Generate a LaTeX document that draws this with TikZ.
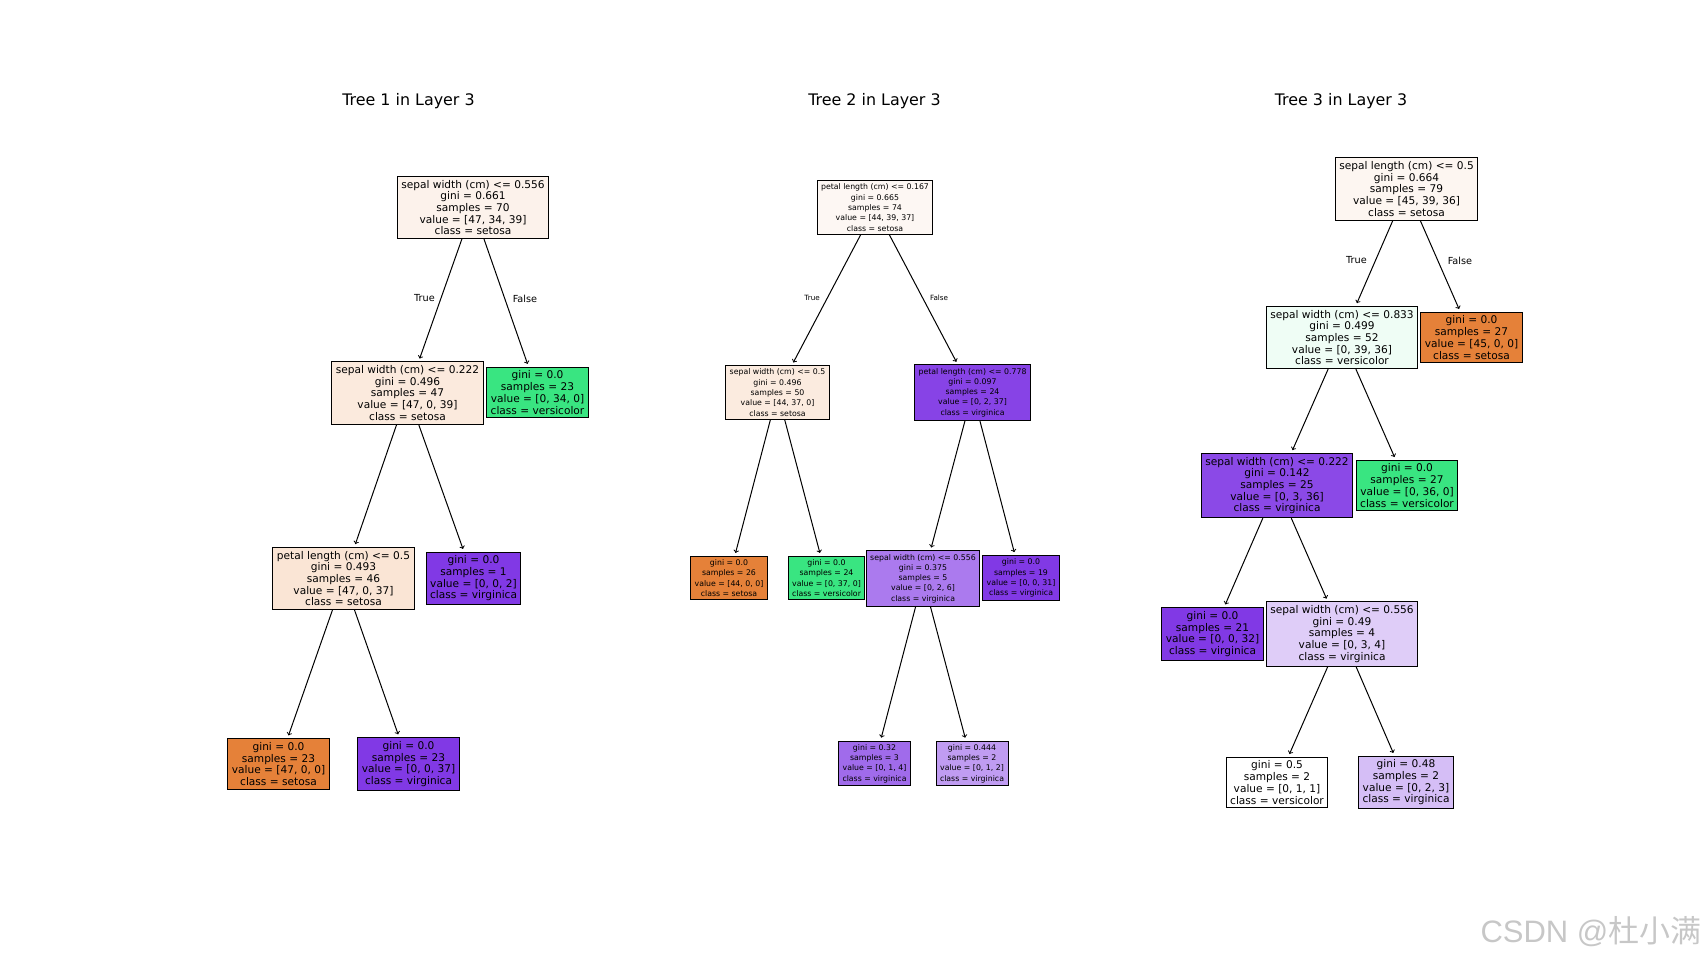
\documentclass[tikz,border=0pt]{standalone}
\usepackage{fontspec}
\setmainfont{DejaVu Sans}
\newfontfamily\wmfont{Liberation Sans}
\newfontfamily\cjk{Noto Sans CJK SC}
\definecolor{setosa}{HTML}{E58139}
\definecolor{versicolor}{HTML}{39E581}
\definecolor{virginica}{HTML}{8139E5}
\tikzstyle{tnode}=[draw, line width=1pt, inner xsep=4pt, inner ysep=3.6pt, align=center, font=\fontsize{10.6}{11.7}\selectfont]
\tikzstyle{snode}=[tnode, inner ysep=3.2pt, font=\fontsize{7.8}{10.3}\selectfont]
\tikzstyle{edge}=[->, line width=1pt, shorten >=3pt]
\tikzstyle{tlab}=[inner sep=0pt, font=\fontsize{9.7}{11}\selectfont]
\tikzstyle{slab}=[inner sep=0pt, font=\fontsize{7.2}{8}\selectfont]
\tikzstyle{treetitle}=[font=\fontsize{15.9}{18}\selectfont]

\begin{document}
\begin{tikzpicture}[x=1pt, y=-1pt]
        \useasboundingbox (0, 0) rectangle (1706, 962);
        % tree 1
        \node[treetitle]                  (T1) at (408.5, 101) {Tree 1 in Layer 3};
        \node[tnode, fill=setosa!10]      (A0) at (473, 207.5) {sepal width (cm) <= 0.556\\gini = 0.661\\samples = 70\\value = [47, 34, 39]\\class = setosa};
        \node[tnode, fill=setosa!17]      (A1) at (407.5, 393) {sepal width (cm) <= 0.222\\gini = 0.496\\samples = 47\\value = [47, 0, 39]\\class = setosa};
        \node[tnode, fill=versicolor]     (A2) at (537.5, 392.5) {gini = 0.0\\samples = 23\\value = [0, 34, 0]\\class = versicolor};
        \node[tnode, fill=setosa!21]      (A3) at (343.5, 578.5) {petal length (cm) <= 0.5\\gini = 0.493\\samples = 46\\value = [47, 0, 37]\\class = setosa};
        \node[tnode, fill=virginica]      (A4) at (473.5, 578.5) {gini = 0.0\\samples = 1\\value = [0, 0, 2]\\class = virginica};
        \node[tnode, fill=setosa]         (A5) at (278.5, 764) {gini = 0.0\\samples = 23\\value = [47, 0, 0]\\class = setosa};
        \node[tnode, fill=virginica]      (A6) at (408.5, 764) {gini = 0.0\\samples = 23\\value = [0, 0, 37]\\class = virginica};
        \draw[edge] (A0) -- node[tlab, anchor=east, xshift=-5pt, yshift=2pt] (A0true) {True} (A1);
        \draw[edge] (A0) -- node[tlab, anchor=west, xshift=6pt, yshift=4pt] (A0false) {False} (A2);
        \draw[edge] (A1) -- (A3);
        \draw[edge] (A1) -- (A4);
        \draw[edge] (A3) -- (A5);
        \draw[edge] (A3) -- (A6);
        % tree 2
        \node[treetitle]                  (T2) at (874.5, 101) {Tree 2 in Layer 3};
        \node[snode, fill=setosa!6]       (B0) at (875, 207.5) {petal length (cm) <= 0.167\\gini = 0.665\\samples = 74\\value = [44, 39, 37]\\class = setosa};
        \node[snode, fill=setosa!16]      (B1) at (777.5, 392.5) {sepal width (cm) <= 0.5\\gini = 0.496\\samples = 50\\value = [44, 37, 0]\\class = setosa};
        \node[snode, fill=virginica!95]   (B2) at (972.5, 392.5) {petal length (cm) <= 0.778\\gini = 0.097\\samples = 24\\value = [0, 2, 37]\\class = virginica};
        \node[snode, fill=setosa]         (B3) at (729, 578) {gini = 0.0\\samples = 26\\value = [44, 0, 0]\\class = setosa};
        \node[snode, fill=versicolor]     (B4) at (826.5, 578) {gini = 0.0\\samples = 24\\value = [0, 37, 0]\\class = versicolor};
        \node[snode, fill=virginica!67]   (B5) at (923, 578.5) {sepal width (cm) <= 0.556\\gini = 0.375\\samples = 5\\value = [0, 2, 6]\\class = virginica};
        \node[snode, fill=virginica]      (B6) at (1021, 578) {gini = 0.0\\samples = 19\\value = [0, 0, 31]\\class = virginica};
        \node[snode, fill=virginica!75]   (B7) at (874.5, 763.5) {gini = 0.32\\samples = 3\\value = [0, 1, 4]\\class = virginica};
        \node[snode, fill=virginica!50]   (B8) at (972, 763.5) {gini = 0.444\\samples = 2\\value = [0, 1, 2]\\class = virginica};
        \draw[edge] (B0) -- node[slab, anchor=east, xshift=-6pt, yshift=2pt] (B0true) {True} (B1);
        \draw[edge] (B0) -- node[slab, anchor=west, xshift=6pt, yshift=2pt] (B0false) {False} (B2);
        \draw[edge] (B1) -- (B3);
        \draw[edge] (B1) -- (B4);
        \draw[edge] (B2) -- (B5);
        \draw[edge] (B2) -- (B6);
        \draw[edge] (B5) -- (B7);
        \draw[edge] (B5) -- (B8);
        % tree 3
        \node[treetitle]                  (T3) at (1341, 101) {Tree 3 in Layer 3};
        \node[tnode, fill=setosa!7]       (C0) at (1406.5, 189) {sepal length (cm) <= 0.5\\gini = 0.664\\samples = 79\\value = [45, 39, 36]\\class = setosa};
        \node[tnode, fill=versicolor!8]   (C1) at (1342, 337.5) {sepal width (cm) <= 0.833\\gini = 0.499\\samples = 52\\value = [0, 39, 36]\\class = versicolor};
        \node[tnode, fill=setosa]         (C2) at (1471.5, 337.5) {gini = 0.0\\samples = 27\\value = [45, 0, 0]\\class = setosa};
        \node[tnode, fill=virginica!92]   (C3) at (1277, 485.5) {sepal width (cm) <= 0.222\\gini = 0.142\\samples = 25\\value = [0, 3, 36]\\class = virginica};
        \node[tnode, fill=versicolor]     (C4) at (1407, 485.5) {gini = 0.0\\samples = 27\\value = [0, 36, 0]\\class = versicolor};
        \node[tnode, fill=virginica]      (C5) at (1212.5, 634) {gini = 0.0\\samples = 21\\value = [0, 0, 32]\\class = virginica};
        \node[tnode, fill=virginica!25]   (C6) at (1342, 634) {sepal width (cm) <= 0.556\\gini = 0.49\\samples = 4\\value = [0, 3, 4]\\class = virginica};
        \node[tnode, fill=white]          (C7) at (1277, 782.5) {gini = 0.5\\samples = 2\\value = [0, 1, 1]\\class = versicolor};
        \node[tnode, fill=virginica!33]   (C8) at (1406, 782.5) {gini = 0.48\\samples = 2\\value = [0, 2, 3]\\class = virginica};
        \draw[edge] (C0) -- node[tlab, anchor=east, xshift=-7pt, yshift=3pt] (C0true) {True} (C1);
        \draw[edge] (C0) -- node[tlab, anchor=west, xshift=7pt, yshift=5pt] (C0false) {False} (C2);
        \draw[edge] (C1) -- (C3);
        \draw[edge] (C1) -- (C4);
        \draw[edge] (C3) -- (C5);
        \draw[edge] (C3) -- (C6);
        \draw[edge] (C6) -- (C7);
        \draw[edge] (C6) -- (C8);
        % watermark
        \node[text=black!22, font=\wmfont\fontsize{31}{34}\selectfont] (wm) at (1591, 932) {CSDN @{\cjk 杜小满}};
    \end{tikzpicture}
\end{document}
